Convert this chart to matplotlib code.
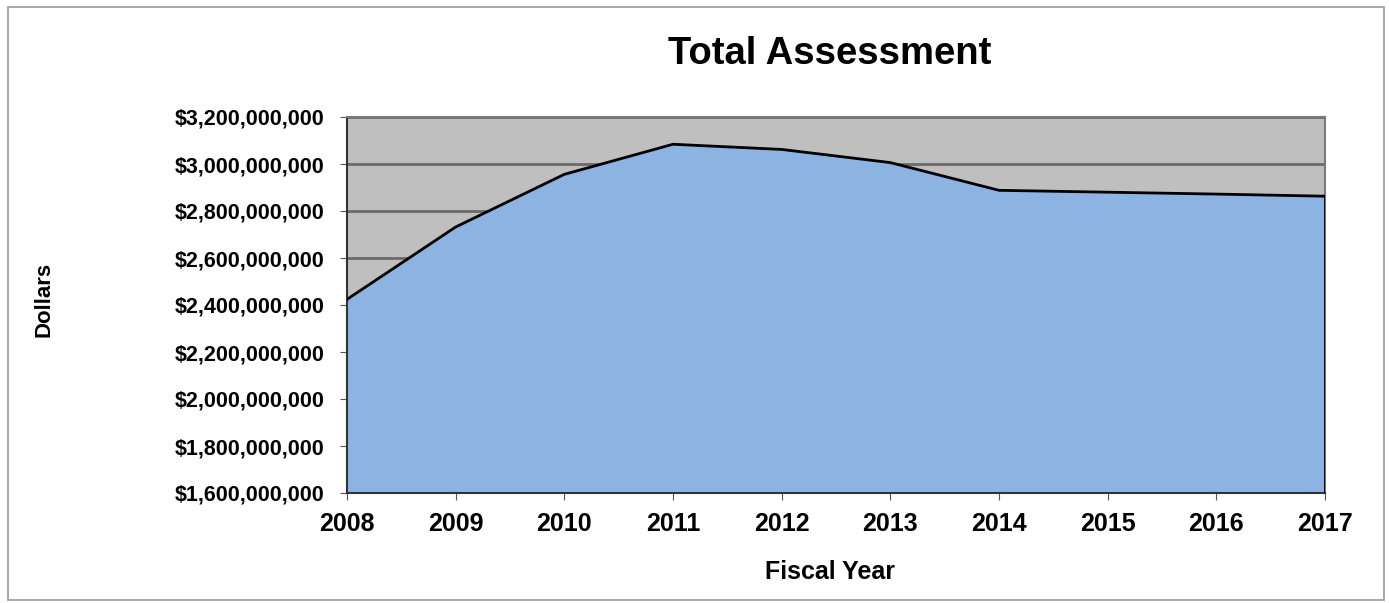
import matplotlib.pyplot as plt
from matplotlib.patches import Rectangle
from matplotlib.ticker import FuncFormatter

plt.rcParams['font.family'] = ['Liberation Sans', 'DejaVu Sans']
plt.rcParams['font.weight'] = 'bold'

years = [2008, 2009, 2010, 2011, 2012, 2013, 2014, 2015, 2016, 2017]
assessment = [2424e6, 2732e6, 2956e6, 3084e6, 3062e6, 3006e6,
              2888e6, 2880e6, 2872e6, 2863e6]
y_ticks = [1.6e9, 1.8e9, 2.0e9, 2.2e9, 2.4e9, 2.6e9, 2.8e9, 3.0e9, 3.2e9]

fig = plt.figure(figsize=(13.89, 6.03), dpi=100)
ax = fig.add_axes([347 / 1389, 1 - 493 / 603, 978 / 1389, 376 / 603])

# textured gray plot area in the original, flat gray here
ax.set_facecolor('#bfbfbf')
ax.set_axisbelow(True)
ax.grid(axis='y', color='#6a6a6a', linewidth=2)

ax.fill_between(years, assessment, 1.6e9, color='#8db3e2', zorder=2)
ax.plot(years, assessment, color='black', linewidth=2, zorder=3)
ax.plot([years[-1], years[-1]], [1.6e9, assessment[-1]], color='black', linewidth=2, zorder=3)

ax.set_xlim(2008, 2017)
ax.set_ylim(1.6e9, 3.2e9)
ax.set_xticks(years)
ax.set_yticks(y_ticks)
ax.yaxis.set_major_formatter(FuncFormatter(lambda v, p: '${:,.0f}'.format(v)))

ax.tick_params(axis='y', labelsize=15.5, length=5, pad=11, color='#555555')
ax.tick_params(axis='x', labelsize=18, length=5, pad=9, color='#555555')
for lab in ax.get_xticklabels() + ax.get_yticklabels():
    lab.set_fontweight('bold')

for side in ['left', 'bottom']:
    ax.spines[side].set_color('#333333')
    ax.spines[side].set_linewidth(1.5)
for side in ['top', 'right']:
    ax.spines[side].set_color('#7a7a7a')
    ax.spines[side].set_linewidth(1.5)

fig.text(830 / 1389, 1 - 54 / 603, 'Total Assessment', fontsize=27.5,
         fontweight='bold', ha='center', va='center')
fig.text(830 / 1389, 1 - 572 / 603, 'Fiscal Year', fontsize=18,
         fontweight='bold', ha='center', va='center')
fig.text(44 / 1389, 1 - 299 / 603, 'Dollars', fontsize=16,
         fontweight='bold', ha='center', va='center', rotation=90)

# light frame around the whole chart
fig.patches.append(Rectangle((8 / 1389, 1 - 600 / 603), 1376 / 1389, 593 / 603,
                             transform=fig.transFigure, fill=False,
                             edgecolor='#9a9a9a', linewidth=1.2))

fig.savefig('out.png', dpi=100)
